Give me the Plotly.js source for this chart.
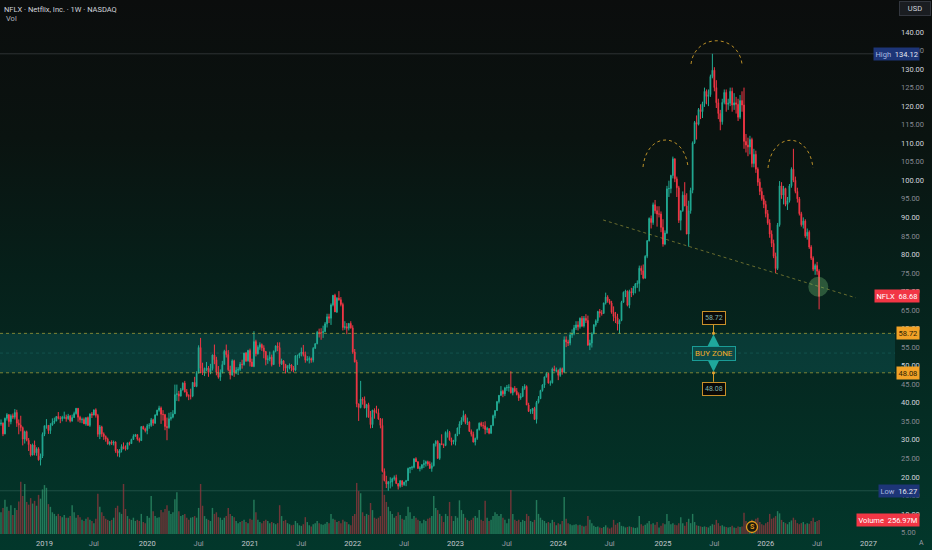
<!DOCTYPE html>
<html><head><meta charset="utf-8">
<script src="https://cdn.plot.ly/plotly-3.0.1.min.js"></script>
<style>
html,body{margin:0;padding:0;background:#0c0e0e;overflow:hidden;}
#chart{width:932px;height:550px;background:linear-gradient(180deg,#0b0d0d 0%,#0a1310 25%,#06201a 50%,#042c23 75%,#02372b 100%);}
</style></head><body><div id="chart"></div>
<script>
// ---- weekly bars, first bar week of 2018-08-06 ----
const firstWeek = [2018, 7, 6];
const open = [
// 2018
34.3,34.5,31.6,35.8,36.8,34.9,36.5,36.1,37.4,34.5,34.0,33.3,30.2,32.2,29.9,28.7,25.9,28.6,26.5,27.6,24.6,25.6,
// 2019
31.5,33.8,33.9,32.5,34.0,34.7,35.1,36.3,35.8,35.7,36.1,36.1,35.7,36.4,35.1,36.0,37.1,38.5,36.1,35.4,35.5,34.3,36.0,33.9,37.0,36.7,38.1,36.6,31.5,33.5,31.6,30.9,30.2,28.9,29.4,29.1,29.4,27.0,26.4,27.2,28.2,27.6,27.5,29.2,29.0,30.1,31.0,31.4,30.2,29.8,33.6,32.9,
// 2020
32.5,33.8,33.9,35.4,34.5,36.7,38.0,38.6,36.9,36.8,33.6,33.3,35.7,36.1,37.0,42.2,42.4,41.8,43.5,45.3,42.9,41.9,41.8,41.8,45.5,44.4,48.0,54.9,49.3,48.0,48.8,49.4,48.2,49.2,52.9,51.6,48.2,46.9,48.2,50.3,53.9,53.0,48.9,47.5,51.3,48.2,48.8,49.0,50.4,50.3,53.4,51.3,
// 2021
54.1,51.0,49.8,56.5,53.2,55.0,55.7,54.8,53.8,51.6,51.8,52.3,50.3,53.9,55.3,54.9,50.5,51.3,50.3,49.3,49.9,50.2,49.4,48.8,52.7,52.7,53.3,53.7,53.0,51.5,51.7,51.9,51.5,54.7,55.9,59.0,58.9,58.9,59.2,61.3,63.2,62.8,66.4,69.0,64.5,68.2,67.8,66.5,60.3,60.5,60.1,61.4,
// 2022
60.2,53.7,51.0,39.7,38.7,41.0,40.6,38.6,39.5,36.1,34.1,38.0,37.4,37.3,35.6,33.9,21.5,19.0,18.1,18.6,18.6,19.5,19.8,18.2,17.5,19.0,17.9,18.6,19.0,22.3,22.5,22.6,24.9,24.1,22.3,22.4,23.3,23.6,24.1,23.5,22.3,23.0,28.9,29.6,25.0,29.0,28.7,28.5,32.0,32.0,30.0,29.4,
// 2023
29.5,31.5,33.2,34.3,35.3,36.6,34.7,34.8,32.3,31.5,29.4,30.4,32.8,34.5,33.9,33.8,32.8,33.0,31.8,33.9,36.5,37.9,40.3,42.0,43.1,42.4,44.0,44.1,44.2,42.7,43.9,43.1,42.2,41.3,41.7,43.9,44.4,39.4,37.7,37.8,38.5,35.5,40.1,41.1,43.3,44.8,47.0,47.9,45.3,45.4,49.1,48.6,
// 2024
48.7,47.4,49.2,48.3,57.0,56.4,56.1,58.3,58.7,60.2,61.0,60.5,62.8,60.7,62.8,62.2,55.5,56.1,58.6,61.0,62.1,64.6,64.2,64.1,66.9,68.5,67.5,66.9,64.4,63.3,62.9,61.2,62.2,67.1,69.8,70.1,66.3,70.0,69.6,70.9,72.0,72.2,76.3,75.6,73.6,79.5,83.7,89.7,88.6,93.4,91.8,90.9,90.9,
// 2025
87.3,82.8,85.8,97.7,97.8,101.3,105.8,100.4,98.0,89.2,91.8,96.0,93.1,85.5,91.8,97.3,110.1,115.6,115.1,119.1,118.5,120.7,124.0,122.6,123.1,128.0,129.7,125.0,120.9,118.0,115.8,121.0,123.7,120.5,120.8,124.0,120.3,120.9,120.5,117.0,121.5,120.3,110.5,109.5,109.0,111.0,104.5,107.0,103.0,99.5,97.0,95.0,
// 2026
93.5,91.0,88.5,85.5,83.0,79.5,76.2,88.0,98.5,96.0,97.8,93.5,94.5,98.5,103.0,100.0,97.0,95.0,91.0,88.0,89.0,85.0,86.0,82.0,79.0,76.0,77.0,75.5
];
const high = [
// 2018
35.5,34.7,36.0,37.2,36.9,36.9,37.1,38.3,38.1,35.5,36.5,33.6,32.5,32.5,30.5,28.8,29.0,29.8,28.0,28.0,26.3,32.0,
// 2019
33.8,35.6,34.0,34.5,35.8,36.0,36.4,37.5,36.4,36.5,37.6,36.8,37.0,36.7,36.8,37.6,38.6,38.6,36.5,36.0,36.0,36.0,36.3,37.1,37.5,38.1,38.5,37.0,34.0,33.8,32.0,31.2,30.6,29.6,29.9,29.8,29.6,27.5,27.5,28.8,29.3,28.5,29.2,29.5,30.3,31.5,31.6,31.5,30.6,33.6,33.8,33.3,
// 2020
34.3,34.5,35.9,35.7,36.9,38.1,39.2,39.0,38.0,37.0,36.0,37.3,37.5,38.0,44.9,44.9,43.2,44.0,45.5,45.9,43.7,42.3,43.8,45.6,47.0,48.5,55.5,57.5,50.8,49.5,51.0,49.9,50.5,53.0,55.7,52.4,49.9,49.0,51.3,54.3,55.7,54.2,50.0,51.7,51.6,49.6,49.6,51.0,51.6,53.5,53.7,54.3,
// 2021
54.6,51.9,59.3,57.0,55.5,56.3,56.0,55.5,54.0,52.8,53.8,53.0,54.1,55.5,56.3,56.3,51.9,51.5,50.5,50.1,50.6,50.4,49.9,52.8,53.0,53.5,54.9,55.6,53.8,52.6,52.5,52.2,55.0,56.1,59.4,60.0,60.1,60.8,61.8,64.0,64.0,66.8,69.0,69.4,68.5,70.1,68.5,67.0,62.0,61.5,61.5,62.0,
// 2022
60.9,54.5,51.6,39.8,45.9,41.5,41.7,39.7,40.0,37.8,38.1,38.5,39.2,38.4,35.9,35.8,22.3,20.3,18.9,19.9,19.8,20.4,20.6,18.3,19.1,19.0,18.7,19.2,22.5,22.7,23.0,25.0,25.3,24.2,22.9,23.4,24.6,24.4,24.4,24.2,23.9,29.0,29.9,29.9,29.0,31.5,29.0,32.3,32.8,32.4,30.6,30.0,
// 2023
31.6,33.3,35.0,36.1,37.9,37.0,36.0,35.0,32.8,32.2,30.6,33.0,34.7,34.9,34.8,35.0,33.5,33.2,34.0,36.8,38.0,40.5,42.1,44.5,43.5,44.3,44.8,45.0,48.5,44.1,44.5,44.0,42.8,42.6,44.5,45.0,44.7,40.0,38.3,38.5,38.9,40.5,41.8,43.5,45.0,47.0,48.2,48.0,46.0,49.5,50.0,49.5,
// 2024
49.0,49.5,49.5,57.9,57.9,57.0,59.0,59.8,61.0,62.0,62.0,63.0,63.4,63.4,63.9,63.5,57.0,59.0,61.2,62.5,64.8,65.3,65.0,67.0,69.7,69.0,68.0,67.5,66.0,64.5,64.0,62.5,67.5,70.0,70.5,70.3,70.5,71.0,71.5,72.3,73.0,77.0,77.0,77.3,79.8,83.9,90.0,90.5,94.0,94.7,93.0,93.0,91.6,
// 2025
89.5,86.5,98.5,99.9,101.5,106.4,105.9,101.0,98.5,91.8,97.0,99.5,96.5,94.5,98.0,110.5,116.0,117.5,119.5,120.5,121.2,125.0,124.5,124.5,128.5,134.12,130.5,127.0,122.0,119.0,122.0,124.5,124.5,122.0,125.0,125.0,123.5,122.5,122.0,123.0,124.0,125.0,112.5,111.5,112.0,111.5,108.5,108.0,103.5,100.5,98.0,96.0,
// 2026
94.5,92.0,89.5,86.5,84.0,80.5,88.5,99.8,99.5,98.5,98.0,95.5,99.0,103.5,108.5,101.0,98.0,95.5,91.5,90.0,89.5,87.0,86.5,82.5,79.5,77.5,78.0,76.0
];
const low = [
// 2018
33.8,31.0,31.5,35.2,33.5,34.2,35.6,35.5,33.5,31.5,32.3,28.5,29.0,29.6,27.0,25.5,25.8,25.8,25.7,24.4,23.1,25.1,
// 2019
31.0,33.0,31.6,31.6,33.8,34.3,35.0,35.5,34.5,35.0,35.6,34.9,35.4,34.7,34.9,35.9,36.8,34.9,34.6,34.5,34.3,33.8,33.8,33.5,35.9,36.6,36.0,30.8,30.2,30.8,30.0,29.5,28.7,28.5,28.6,28.5,26.5,25.5,25.3,26.6,27.5,27.1,27.4,28.5,28.9,30.0,30.8,29.8,29.3,29.7,32.8,32.0,
// 2020
31.5,33.0,33.5,33.8,34.3,36.5,37.6,34.3,35.2,32.6,29.9,33.0,35.2,35.8,37.0,40.5,40.4,41.7,43.3,42.8,41.5,40.7,40.9,41.5,44.3,44.2,48.0,48.0,47.5,47.2,48.5,47.0,47.7,48.7,50.4,47.4,46.5,45.9,47.9,50.3,52.2,48.5,46.3,47.3,47.0,47.7,47.5,48.6,49.2,50.0,51.0,51.1,
// 2021
49.8,49.7,49.6,52.5,53.0,54.3,54.0,52.0,50.1,50.5,51.2,49.8,50.2,53.6,53.9,49.7,50.2,48.6,47.9,48.2,49.0,48.5,48.2,48.5,50.2,52.0,52.5,52.5,50.8,51.2,50.6,50.8,50.9,54.5,55.8,57.6,57.0,57.5,59.0,60.3,61.5,61.0,66.0,64.5,64.2,67.5,66.0,59.5,59.7,58.5,59.5,60.0,
// 2022
53.2,50.9,38.8,35.1,38.5,39.5,38.5,36.0,36.0,33.1,33.2,35.7,37.2,35.4,33.1,21.2,18.8,17.0,16.27,16.9,17.4,19.0,18.2,16.6,17.1,17.3,17.6,17.5,18.9,21.0,21.9,22.3,24.1,22.2,21.5,22.0,22.4,22.8,23.0,22.2,21.4,22.8,28.2,25.0,24.6,28.6,27.8,28.3,30.6,29.8,28.5,28.8,
// 2023
28.5,31.0,31.5,34.0,34.9,34.2,34.0,32.1,30.9,29.3,28.5,30.0,32.5,33.5,33.0,31.5,31.9,31.5,31.6,33.7,35.8,37.8,39.8,41.8,41.5,41.8,43.2,43.0,42.5,42.0,42.8,42.0,40.5,40.8,41.5,43.5,39.4,37.5,37.0,37.0,35.5,34.4,39.8,41.0,43.0,44.0,46.8,45.2,44.6,45.2,48.5,48.2,
// 2024
46.1,47.0,47.6,48.1,55.0,55.3,55.5,57.5,58.2,59.6,59.5,60.0,60.4,60.3,61.5,55.5,54.2,54.9,58.5,60.5,61.5,63.0,63.5,64.0,66.5,67.0,66.5,64.0,62.0,61.5,59.5,58.7,62.0,67.0,68.5,66.0,65.5,68.5,69.0,69.5,71.0,70.0,74.5,73.3,73.5,79.0,83.5,87.0,88.0,91.0,87.5,90.0,86.0,
// 2025
82.1,82.5,85.5,95.5,96.5,100.5,99.5,95.5,88.5,86.5,91.5,93.0,85.5,82.1,91.0,96.5,109.8,111.0,114.8,116.5,116.8,119.8,120.5,120.0,122.5,127.5,124.0,119.5,116.5,113.5,115.0,120.5,118.5,119.0,120.0,118.5,119.0,118.0,116.0,116.5,118.5,108.5,107.5,106.5,107.0,103.5,103.5,102.0,98.5,96.0,94.5,92.5,
// 2026
90.0,88.0,84.5,82.0,79.0,75.0,75.8,87.5,95.0,93.5,93.0,92.0,94.0,98.0,99.5,96.5,94.0,90.5,87.5,87.0,84.5,84.0,81.5,78.5,75.5,74.5,74.5,65.2
];
const close = [
// 2018
34.5,31.6,35.8,36.8,34.9,36.5,36.1,37.4,34.5,34.0,33.3,30.2,32.2,29.9,28.7,25.9,28.6,26.5,27.6,24.6,25.6,31.5,
// 2019
33.8,33.9,32.5,34.0,34.7,35.1,36.3,35.8,35.7,36.1,36.1,35.7,36.4,35.1,36.0,37.1,38.5,36.1,35.4,35.5,34.3,36.0,33.9,37.0,36.7,38.1,36.6,31.5,33.5,31.6,30.9,30.2,28.9,29.4,29.1,29.4,27.0,26.4,27.2,28.2,27.6,27.5,29.2,29.0,30.1,31.0,31.4,30.2,29.8,33.6,32.9,32.5,
// 2020
33.8,33.9,35.4,34.5,36.7,38.0,38.6,36.9,36.8,33.6,33.3,35.7,36.1,37.0,42.2,42.4,41.8,43.5,45.3,42.9,41.9,41.8,41.8,45.5,44.4,48.0,54.9,49.3,48.0,48.8,49.4,48.2,49.2,52.9,51.6,48.2,46.9,48.2,50.3,53.9,53.0,48.9,47.5,51.3,48.2,48.8,49.0,50.4,50.3,53.4,51.3,54.1,
// 2021
51.0,49.8,56.5,53.2,55.0,55.7,54.8,53.8,51.6,51.8,52.3,50.3,53.9,55.3,54.9,50.5,51.3,50.3,49.3,49.9,50.2,49.4,48.8,52.7,52.7,53.3,53.7,53.0,51.5,51.7,51.9,51.5,54.7,55.9,59.0,58.9,58.9,59.2,61.3,63.2,62.8,66.4,69.0,64.5,68.2,67.8,66.5,60.3,60.5,60.1,61.4,60.2,
// 2022
53.7,51.0,39.7,38.7,41.0,40.6,38.6,39.5,36.1,34.1,38.0,37.4,37.3,35.6,33.9,21.5,19.0,18.1,18.6,18.6,19.5,19.8,18.2,17.5,19.0,17.9,18.6,19.0,22.3,22.5,22.6,24.9,24.1,22.3,22.4,23.3,23.6,24.1,23.5,22.3,23.0,28.9,29.6,25.0,29.0,28.7,28.5,32.0,32.0,30.0,29.4,29.5,
// 2023
31.5,33.2,34.3,35.3,36.6,34.7,34.8,32.3,31.5,29.4,30.4,32.8,34.5,33.9,33.8,32.8,33.0,31.8,33.9,36.5,37.9,40.3,42.0,43.1,42.4,44.0,44.1,44.2,42.7,43.9,43.1,42.2,41.3,41.7,43.9,44.4,39.4,37.7,37.8,38.5,35.5,40.1,41.1,43.3,44.8,47.0,47.9,45.3,45.4,49.1,48.6,48.7,
// 2024
47.4,49.2,48.3,57.0,56.4,56.1,58.3,58.7,60.2,61.0,60.5,62.8,60.7,62.8,62.2,55.5,56.1,58.6,61.0,62.1,64.6,64.2,64.1,66.9,68.5,67.5,66.9,64.4,63.3,62.9,61.2,62.2,67.1,69.8,70.1,66.3,70.0,69.6,70.9,72.0,72.2,76.3,75.6,73.6,79.5,83.7,89.7,88.6,93.4,91.8,90.9,90.9,87.3,
// 2025
82.8,85.8,97.7,97.8,101.3,105.8,100.4,98.0,89.2,91.8,96.0,93.1,85.5,91.8,97.3,110.1,115.6,115.1,119.1,118.5,120.7,124.0,122.6,123.1,128.0,129.7,125.0,120.9,118.0,115.8,121.0,123.7,120.5,120.8,124.0,120.3,120.9,120.5,117.0,121.5,120.3,110.5,109.5,109.0,111.0,104.5,107.0,103.0,99.5,97.0,95.0,93.5,
// 2026
91.0,88.5,85.5,83.0,79.5,76.2,88.0,98.5,96.0,97.8,93.5,94.5,98.5,103.0,100.0,97.0,95.0,91.0,88.0,89.0,85.0,86.0,82.0,79.0,76.0,77.0,75.5,68.68
];
// volume, millions of shares (split-adjusted)
const volume = [
// 2018
400,480,630,500,430,530,350,480,440,600,960,700,920,590,540,660,560,610,520,720,650,820,
// 2019
900,850,550,500,400,370,330,370,330,310,350,300,300,330,530,400,300,350,310,260,240,280,310,260,240,200,280,740,500,400,330,280,260,240,260,300,480,520,400,370,920,460,330,280,260,300,240,260,240,370,220,200,
// 2020
330,300,700,420,330,300,310,440,400,460,530,430,370,400,640,770,420,330,350,370,300,260,300,310,330,300,480,920,520,330,280,260,240,480,370,400,310,300,260,300,330,480,370,330,310,240,200,220,240,260,220,200,
// 2021
280,260,630,400,260,220,200,240,260,240,200,220,200,180,200,530,330,240,260,200,180,160,170,240,200,160,150,180,310,220,160,140,180,200,240,200,180,170,190,220,200,370,280,260,220,240,200,260,230,220,180,160,
// 2022
330,370,940,790,750,400,330,370,350,570,440,300,280,300,330,1100,720,590,500,420,370,300,330,400,350,280,260,330,500,400,280,330,300,260,240,200,260,240,280,300,330,700,480,440,370,330,220,370,330,590,330,240,
// 2023
330,300,620,440,370,300,260,240,260,300,330,300,440,260,240,610,300,240,260,330,400,370,330,370,300,260,200,280,810,370,260,240,260,220,260,240,370,330,240,220,260,625,370,300,260,240,200,220,200,260,220,160,
// 2024
200,180,240,680,280,200,180,160,170,180,160,170,150,140,150,330,260,200,150,130,140,120,110,130,160,120,100,120,260,170,200,220,150,140,120,130,140,130,120,110,120,330,180,150,170,200,240,180,200,170,220,120,150,
// 2025
200,180,370,240,180,200,170,160,200,310,200,150,220,280,200,370,220,160,150,140,130,140,130,120,150,180,170,260,200,150,160,140,130,120,130,150,120,110,140,130,140,390,240,200,180,260,200,280,300,220,180,160,
// 2026
200,220,370,280,300,330,420,380,260,220,200,180,220,250,300,260,200,180,200,220,180,200,190,240,300,220,240,256.97
];
const buyZone = [48.08, 58.72];
const priceTicks = [5,10,15,20,25,30,35,40,45,50,55,60,65,70,75,80,85,90,95,100,105,110,115,120,125,130,135,140];
const yearTicks = ['2019-01-07','2020-01-06','2021-01-04','2022-01-03','2023-01-02','2024-01-01','2025-01-06','2026-01-05','2027-01-04'];
const yearLabels = ['2019','2020','2021','2022','2023','2024','2025','2026','2027'];
const julTicks = ['2019-07-01','2020-07-06','2021-07-05','2022-07-04','2023-07-03','2024-07-01','2025-07-07','2026-07-06'];
const julLabel = 'Jul';
const titleText = 'NFLX · Netflix, Inc. · 1W · NASDAQ';
const ticker = 'NFLX';

const N = close.length;
[open, high, low, volume].forEach(a => { if (a.length !== N) throw new Error('length mismatch ' + [open.length, high.length, low.length, close.length, volume.length].join(',')); });

const dates = [];
for (let i = 0; i < N; i++) {
  const d = new Date(Date.UTC(firstWeek[0], firstWeek[1], firstWeek[2]) + i * 7 * 864e5);
  dates.push(d.toISOString().slice(0, 10));
}

const UP = '#22ab94', DN = '#f23645';
const volColors = close.map((c, i) => c >= open[i] ? 'rgba(48,150,110,0.72)' : 'rgba(150,55,62,0.75)');

const hiVal = Math.max(...high), loVal = Math.min(...low);
const lastClose = close[N - 1], lastVol = volume[N - 1];

const W = 895, H = 534;
const P = v => v / W, Q = v => (H - v) / H;
const FONT = 'Roboto, "Liberation Sans", Arial, sans-serif';

const traces = [
  { type: 'bar', x: dates, y: volume, yaxis: 'y2', marker: { color: volColors, line: { width: 0 } }, width: 4.4e8, hoverinfo: 'skip' },
  { type: 'candlestick', x: dates, open: open, high: high, low: low, close: close,
    increasing: { line: { color: UP, width: 1 }, fillcolor: UP },
    decreasing: { line: { color: DN, width: 1 }, fillcolor: DN },
    whiskerwidth: 0, hoverinfo: 'skip' }
];

const tickText = priceTicks.map(v => '<span style="color:' + (v % 10 === 0 ? '#d1d4dc' : '#868a93') + '">' + v.toFixed(2) + '</span>');
const xTickVals = [], xTickText = [];
yearTicks.forEach((t, i) => { xTickVals.push(t); xTickText.push('<span style="color:#c4c7ce">' + yearLabels[i] + '</span>'); });
julTicks.forEach(t => { xTickVals.push(t); xTickText.push('<span style="color:#9a9da6">' + julLabel + '</span>'); });

const ARC = { color: 'rgba(215,165,45,0.85)', width: 1, dash: 'dot' };
const arc = (x0, y0, x1, yc) => `M ${P(x0)},${Q(y0)} C ${P(x0 + 4)},${Q(yc)} ${P(x1 - 4)},${Q(yc)} ${P(x1)},${Q(y0)}`;
const zoneX = '2025-07-04';
const ZONE_LINE = { color: 'rgba(175,165,55,0.7)', width: 1, dash: 'dot' };

const shapes = [
  { type: 'rect', xref: 'paper', x0: 0, x1: 1, yref: 'y', y0: buyZone[0], y1: buyZone[1], fillcolor: 'rgba(30,160,170,0.17)', line: { width: 0 }, layer: 'below' },
  { type: 'line', xref: 'paper', x0: 0, x1: 1, yref: 'y', y0: buyZone[1], y1: buyZone[1], line: ZONE_LINE },
  { type: 'line', xref: 'paper', x0: 0, x1: 1, yref: 'y', y0: buyZone[0], y1: buyZone[0], line: ZONE_LINE },
  { type: 'line', xref: 'paper', x0: 0, x1: 1, yref: 'y', y0: (buyZone[0] + buyZone[1]) / 2, y1: (buyZone[0] + buyZone[1]) / 2, line: { color: 'rgba(60,170,170,0.2)', width: 1, dash: 'dot' }, layer: 'below' },
  { type: 'line', xref: 'paper', x0: 0, x1: 1, yref: 'y', y0: hiVal, y1: hiVal, line: { color: 'rgba(120,123,134,0.32)', width: 1 }, layer: 'below' },
  { type: 'line', xref: 'paper', x0: 0, x1: 1, yref: 'y', y0: loVal, y1: loVal, line: { color: 'rgba(70,120,110,0.4)', width: 1 }, layer: 'below' },
  // neckline
  { type: 'line', xref: 'x', yref: 'y', x0: '2024-06-08', y0: 89.3, x1: '2026-11-20', y1: 68.3, line: { color: 'rgba(170,160,60,0.6)', width: 1, dash: 'dot' } },
  // shoulders & head
  { type: 'path', xref: 'paper', yref: 'paper', path: arc(643, 167, 688, 131), line: ARC },
  { type: 'path', xref: 'paper', yref: 'paper', path: arc(691, 64, 742, 33), line: ARC },
  { type: 'path', xref: 'paper', yref: 'paper', path: arc(768, 168, 813, 131), line: ARC },
  // breakdown circle
  { type: 'circle', xref: 'paper', yref: 'paper', x0: P(808.3), x1: P(828.3), y0: Q(296.7), y1: Q(276.7), fillcolor: 'rgba(120,200,120,0.33)', line: { width: 0 } },
  // buy zone connectors
  { type: 'line', xref: 'x', x0: zoneX, x1: zoneX, yref: 'y', ysizemode: 'pixel', yanchor: buyZone[1], y0: 0, y1: 10, line: { color: '#d89a2a', width: 1 } },
  { type: 'line', xref: 'x', x0: zoneX, x1: zoneX, yref: 'y', ysizemode: 'pixel', yanchor: buyZone[0], y0: 0, y1: -9, line: { color: '#d89a2a', width: 1 } },
  { type: 'circle', xref: 'x', xsizemode: 'pixel', xanchor: zoneX, x0: -1.6, x1: 1.6, yref: 'y', ysizemode: 'pixel', yanchor: buyZone[1], y0: -1.6, y1: 1.6, fillcolor: '#e0a030', line: { width: 0 } },
  { type: 'circle', xref: 'x', xsizemode: 'pixel', xanchor: zoneX, x0: -1.6, x1: 1.6, yref: 'y', ysizemode: 'pixel', yanchor: buyZone[0], y0: -1.6, y1: 1.6, fillcolor: '#e0a030', line: { width: 0 } },
  // split marker
  { type: 'circle', xref: 'paper', yref: 'paper', x0: P(746.5), x1: P(757.5), y0: Q(532.5), y1: Q(521.5), fillcolor: '#1b1a0e', line: { color: '#e39a1c', width: 1.3 } }
];

const lab = (text, y, bg, color, yref) => ({ xref: 'paper', x: P(920), xanchor: 'right', yref: yref || 'y', y: y, yanchor: 'middle', text: text, showarrow: false, bgcolor: bg, borderpad: 1.5, font: { family: FONT, size: 7.5, color: color } });
const sp = '\u2002';

const annotations = [
  { xref: 'paper', yref: 'paper', x: P(4), y: Q(19), xanchor: 'left', yanchor: 'middle', text: 'Vol', showarrow: false, font: { family: FONT, size: 7.5, color: '#b2b5be' } },
  lab('<span style="color:#a9b8e0">High</span>' + sp + hiVal.toFixed(2), hiVal, '#1d3577', '#e6e9f0'),
  lab('<span style="color:#a9b8e0">Low</span>' + sp + loVal.toFixed(2), loVal, '#1d3577', '#e6e9f0'),
  lab(ticker + sp + lastClose.toFixed(2), lastClose, '#f23645', '#ffffff'),
  lab(buyZone[1].toFixed(2), buyZone[1], '#f2a227', '#2a1d05'),
  lab(buyZone[0].toFixed(2), buyZone[0], '#f2a227', '#2a1d05'),
  lab('Volume' + sp + lastVol.toFixed(2) + 'M', lastVol, '#f23645', '#ffffff', 'y2'),
  { xref: 'paper', yref: 'paper', x: P(914.5), y: Q(8), xanchor: 'center', yanchor: 'middle', text: 'USD', showarrow: false, bgcolor: '#1a1d21', bordercolor: '#33373f', borderwidth: 1, borderpad: 2, width: 26, font: { family: FONT, size: 7.5, color: '#d1d4dc' } },
  { xref: 'paper', yref: 'paper', x: P(921), y: Q(543), xanchor: 'center', yanchor: 'middle', text: 'A', showarrow: false, font: { family: FONT, size: 7, color: '#9a9da6' } },
  { xref: 'paper', yref: 'paper', x: P(752), y: Q(527), xanchor: 'center', yanchor: 'middle', text: '<b>S</b>', showarrow: false, font: { family: FONT, size: 7, color: '#e39a1c' } },
  // buy zone call-out
  { x: zoneX, y: buyZone[1], yref: 'y', ax: 0, ay: 12, text: '', showarrow: true, arrowhead: 2, arrowsize: 0.8, arrowwidth: 3, arrowcolor: '#1fa89c', standoff: 1 },
  { x: zoneX, y: buyZone[0], yref: 'y', ax: 0, ay: -12, text: '', showarrow: true, arrowhead: 2, arrowsize: 0.8, arrowwidth: 3, arrowcolor: '#1fa89c', standoff: 1 },
  { x: zoneX, y: buyZone[1], yref: 'y', yshift: 15, text: buyZone[1].toFixed(2), showarrow: false, bgcolor: '#0a0a08', bordercolor: '#c8902a', borderwidth: 1, borderpad: 2, font: { family: FONT, size: 7, color: '#7fb5ad' } },
  { x: zoneX, y: buyZone[0], yref: 'y', yshift: -16, text: buyZone[0].toFixed(2), showarrow: false, bgcolor: '#0a0a08', bordercolor: '#c8902a', borderwidth: 1, borderpad: 2, font: { family: FONT, size: 7, color: '#7fb5ad' } },
  { x: zoneX, y: (buyZone[0] + buyZone[1]) / 2, yref: 'y', text: 'BUY ZONE', showarrow: false, bgcolor: '#0b4a48', bordercolor: '#1a9c96', borderwidth: 1, borderpad: 2, font: { family: FONT, size: 8, color: '#f0ac2a' } }
];

const layout = {
  width: 932, height: 550,
  margin: { l: 0, r: 37, t: 0, b: 16 },
  paper_bgcolor: 'rgba(0,0,0,0)', plot_bgcolor: 'rgba(0,0,0,0)',
  showlegend: false, bargap: 0.25, boxgap: 0.45,
  title: { text: titleText, xref: 'container', yref: 'container', x: 4 / 932, xanchor: 'left', y: 1 - 9 / 550, yanchor: 'middle', font: { family: FONT, size: 7.5, color: '#d1d4dc' } },
  font: { family: FONT, color: '#b2b5be' },
  xaxis: { type: 'date', range: ['2018-08-02 11:00', '2027-04-07 21:00'], rangeslider: { visible: false }, showgrid: false, zeroline: false, showline: false, ticks: '', tickvals: xTickVals, ticktext: xTickText, tickfont: { family: FONT, size: 7.5, color: '#b2b5be' }, ticklabelstandoff: 3, fixedrange: true },
  yaxis: { side: 'right', range: [4.606, 148.63], showgrid: false, zeroline: false, showline: false, ticks: '', tickvals: priceTicks, ticktext: tickText, tickfont: { family: FONT, size: 7.5, color: '#d1d4dc' }, ticklabelstandoff: 5, fixedrange: true },
  yaxis2: { overlaying: 'y', range: [0, 9826], visible: false, fixedrange: true },
  shapes: shapes,
  annotations: annotations
};

Plotly.newPlot('chart', traces, layout, { staticPlot: true, displayModeBar: false });
</script>
</body></html>
